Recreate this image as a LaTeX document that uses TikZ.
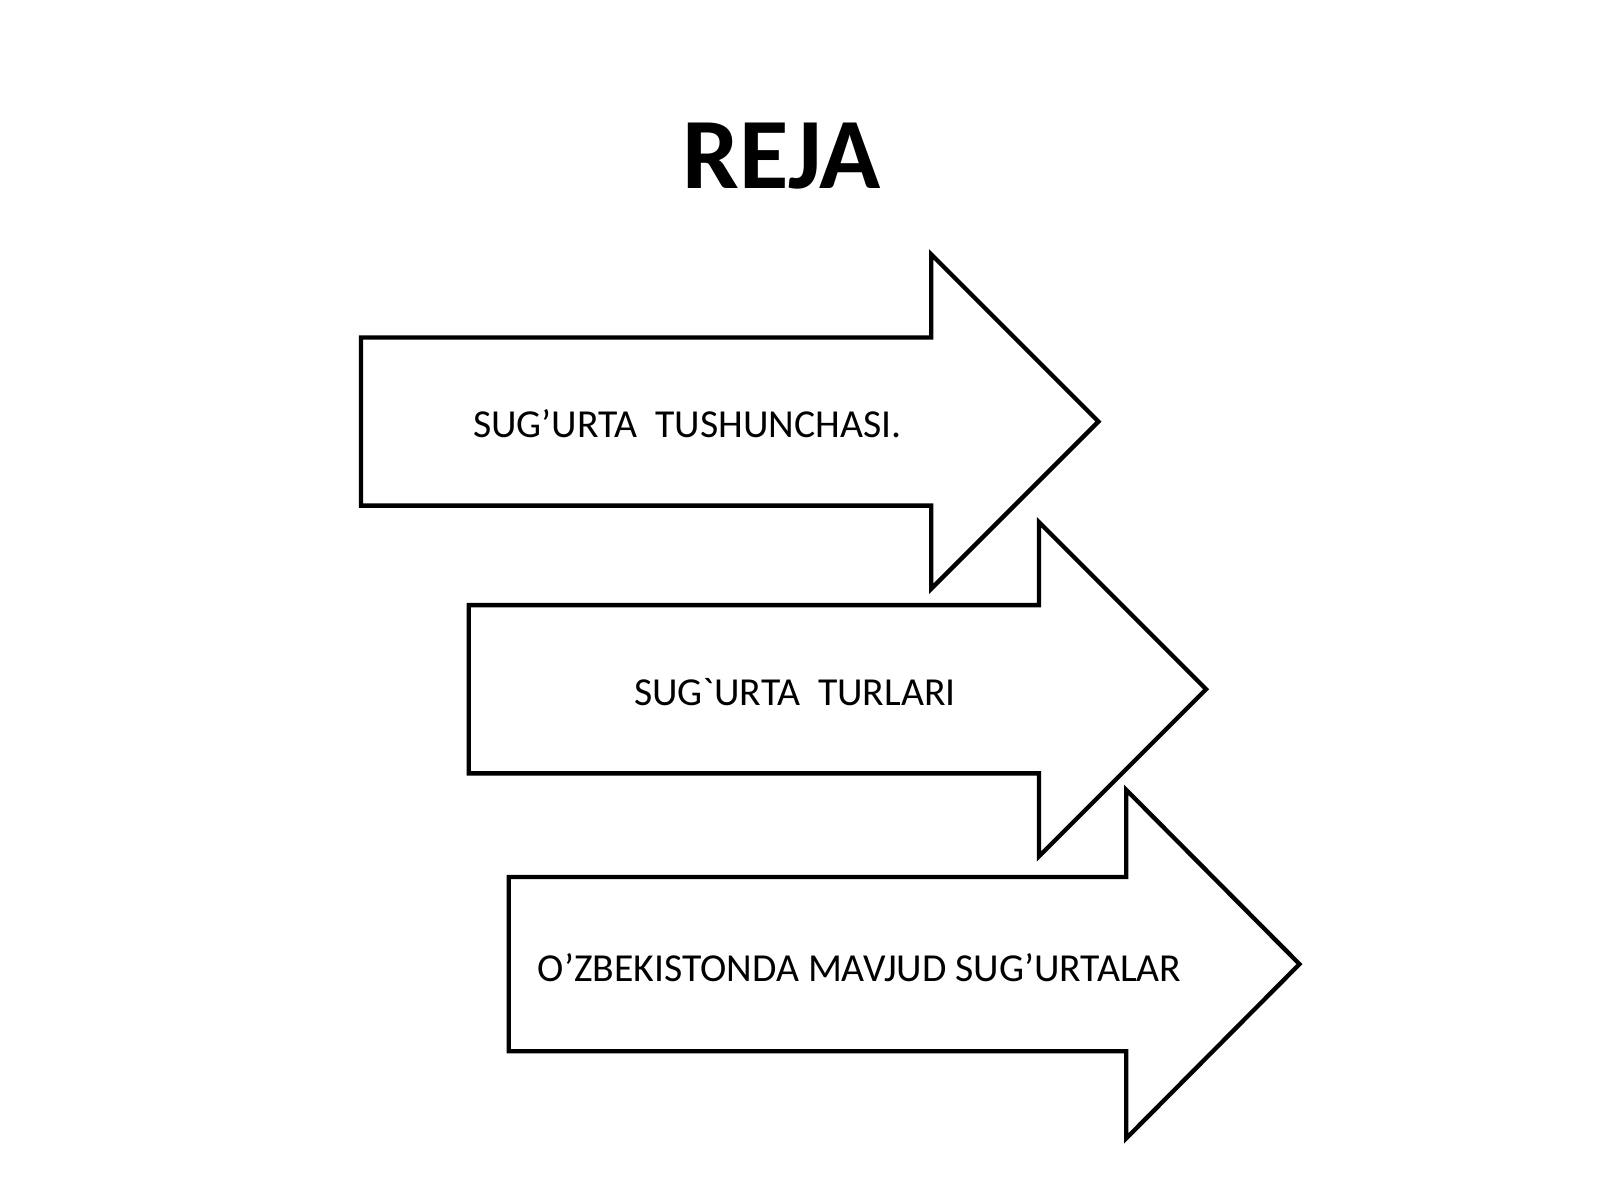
\documentclass[tikz,border=0pt]{standalone}
\usepackage{fontspec}
\setmainfont{Carlito}
\begin{document}
\begin{tikzpicture}[x=0.01cm,y=-0.01cm,
  plan/.style={draw, very thick, line join=miter},
  item/.style={font=\fontsize{11}{13}\selectfont}]
  \useasboundingbox (0,0) rectangle (1560,1170);
  \node[font=\fontsize{28}{32}\selectfont\bfseries] (title) at (762,152) {REJA};
  % the three arrows: left, middle, body half, head, head half, tip
  \foreach \l/\m/\b/\h/\H/\t in {352/411/82/908/163/1071, 457/672/82/1013/163/1176, 496/940/85/1098/170/1267}
    \draw[plan] (\l,\m-\b) -- (\h,\m-\b) -- (\h,\m-\H) -- (\t,\m)
      -- (\h,\m+\H) -- (\h,\m+\b) -- (\l,\m+\b) -- cycle;
  % labels
  \node[item] (t1) at (670,413) {SUG’URTA\ \ TUSHUNCHASI.};
  \node[item] (t2) at (775,675) {SUG\textasciigrave URTA\ \ TURLARI};
  \node[item] (t3) at (838,943) {O’ZBEKISTONDA MAVJUD SUG’URTALAR};
\end{tikzpicture}
\end{document}
